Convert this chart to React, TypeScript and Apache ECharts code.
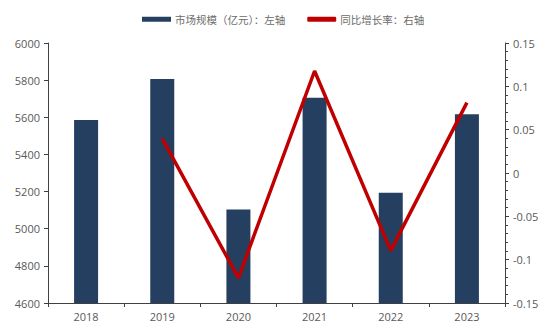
import React, { useEffect, useRef } from "react";
import * as echarts from "echarts";

const categories = ["2018", "2019", "2020", "2021", "2022", "2023"];
const marketSize = [5585, 5806, 5104, 5705, 5194, 5616];
const growthRate: (number | null)[] = [null, 0.0396, -0.121, 0.1177, -0.0896, 0.0812];
const leftTicks = { min: 4600, max: 6000, interval: 200 };
const rightTicks = { min: -0.15, max: 0.15, interval: 0.05 };
const barName = "市场规模（亿元）：左轴";
const lineName = "同比增长率：右轴";

export default function App() {
  const ref = useRef<HTMLDivElement>(null);
  useEffect(() => {
    if (!ref.current) return;
    const chart = echarts.init(ref.current, undefined, { renderer: "svg" });
    const axisColor = "#404040";
    const labelColor = "#595959";
    const font = "'Open Sans', 'Liberation Sans', sans-serif";
    chart.setOption({
      animation: false,
      backgroundColor: "#ffffff",
      legend: {
        top: 9,
        left: 137,
        itemWidth: 29,
        itemHeight: 5,
        itemGap: 22,
        textStyle: { color: "#6b6b6b", fontSize: 10.5, fontFamily: "'Noto Sans CJK SC', sans-serif", padding: [0, 0, 0, -1] },
        data: [
          { name: barName, icon: "rect", itemStyle: { borderWidth: 0 } },
          { name: lineName, icon: "roundRect", itemStyle: { borderWidth: 0 } },
        ],
      },
      grid: { left: 48, right: 45, top: 43, bottom: 27 },
      xAxis: {
        type: "category",
        data: categories,
        axisLine: { onZero: false, lineStyle: { color: axisColor, width: 1 } },
        axisTick: { show: true, length: 4, alignWithLabel: false, lineStyle: { color: axisColor } },
        axisLabel: { color: labelColor, fontSize: 11, fontFamily: font, margin: 8 },
      },
      yAxis: [
        {
          type: "value",
          min: leftTicks.min,
          max: leftTicks.max,
          interval: leftTicks.interval,
          axisLine: { show: true, lineStyle: { color: axisColor } },
          axisTick: { show: true, length: 4, lineStyle: { color: axisColor } },
          splitLine: { show: false },
          axisLabel: {
            color: labelColor,
            fontSize: 11,
            fontFamily: font,
            margin: 8,
            formatter: (v: number) => String(v),
          },
        },
        {
          type: "value",
          min: rightTicks.min,
          max: rightTicks.max,
          interval: rightTicks.interval,
          position: "right",
          axisLine: { show: true, lineStyle: { color: axisColor } },
          axisTick: { show: true, length: 4, lineStyle: { color: axisColor } },
          minorTick: { show: true, splitNumber: 5, length: 3, lineStyle: { color: axisColor } },
          splitLine: { show: false },
          axisLabel: {
            color: labelColor,
            fontSize: 11,
            fontFamily: font,
            margin: 8,
            formatter: (v: number) => String(Math.round(v * 100) / 100),
          },
        },
      ],
      series: [
        {
          name: barName,
          type: "bar",
          data: marketSize,
          barWidth: 24,
          itemStyle: { color: "#243F60" },
        },
        {
          name: lineName,
          type: "line",
          yAxisIndex: 1,
          data: growthRate,
          symbol: "none",
          lineStyle: { color: "#C00000", width: 3.5 },
          itemStyle: { color: "#C00000" },
        },
      ],
    });
    return () => chart.dispose();
  }, []);
  return (
    <div
      ref={ref}
      style={{ position: "fixed", left: 0, top: 0, width: 550, height: 330 }}
    />
  );
}
